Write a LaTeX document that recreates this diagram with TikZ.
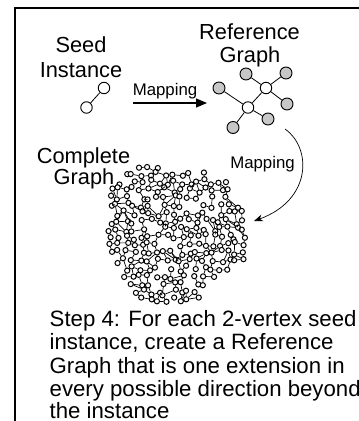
\documentclass[tikz,border=0pt]{standalone}
\usepackage{fontspec}
\setmainfont{Liberation Sans}
\usetikzlibrary{arrows.meta}
\def\gkone{1}
\begin{document}
\begin{tikzpicture}[x=1pt,y=-1pt,
  title/.style={font=\fontsize{21.8}{25}\selectfont, inner sep=0, anchor=base},
  maplabel/.style={font=\fontsize{16.8}{20}\selectfont, inner sep=0, anchor=base},
  steptext/.style={font=\fontsize{22.2}{23.3}\selectfont, inner sep=0, anchor=base west},
  wnode/.style={circle, draw, fill=white, minimum size=11.5pt, inner sep=0, line width=0.9pt},
  gnode/.style={wnode, fill=black!22, minimum size=12pt},
  edge/.style={line width=0.8pt},
  tiny/.style={circle, draw, fill=white, minimum size=5.2pt, inner sep=0, line width=1pt},
  tedge/.style={line width=0.7pt},
  frame/.style={line width=2pt},
  maparrow/.style={line width=1.2pt, -{Triangle[length=11pt,width=9pt]}},
  curvearrow/.style={line width=0.7pt, -{Stealth[length=9pt,width=7pt]}}]
\useasboundingbox (0,0) rectangle (359,421);
\fill[white] (0,0) rectangle (359,421);
% frame
\draw[frame] (15,421) -- (15,8) -- (359,8);

% titles
\node[title] (seed) at (81,52) {Seed};
\node[title] (inst) at (81,77) {Instance};
\node[title] (ref) at (249.5,39) {Reference};
\node[title] (refg) at (250,62) {Graph};
\node[title] (comp) at (83.5,163) {Complete};
\node[title] (compg) at (84,184) {Graph};

% seed instance
\node[wnode] (s1) at (104,88) {};
\node[wnode] (s2) at (86.5,107.5) {};
\draw[edge] (s1) -- (s2);

% mapping arrow 1
\coordinate (m1s) at (133,103);
\coordinate (m1e) at (207,103);
\draw[maparrow] (m1s) -- (m1e);
\node[maplabel] (map1) at (165,95) {Mapping};

% reference graph
\node[wnode] (ru) at (266,88) {};
\node[wnode] (rl) at (248,107.5) {};
\node[gnode] (g1) at (219,88) {};
\node[gnode] (g2) at (246,74) {};
\node[gnode] (g3) at (286,73) {};
\node[gnode] (g4) at (287,104) {};
\node[gnode] (g5) at (268,119) {};
\node[gnode] (g6) at (233,127.5) {};
\draw[edge] (g1) -- (rl);
\draw[edge] (g2) -- (ru);
\draw[edge] (g3) -- (ru);
\draw[edge] (ru) -- (g4);
\draw[edge] (ru) -- (rl);
\draw[edge] (rl) -- (g5);
\draw[edge] (rl) -- (g6);

% curved mapping arrow
\coordinate (cs) at (285,129);
\coordinate (ce) at (254,221);
\draw[curvearrow] (cs) .. controls (312,148) and (312,200) .. (ce);
\node[maplabel] (map2) at (262.5,168) {Mapping};

% complete graph (random mesh)
\pgfmathsetseed{4242}
\foreach \i in {0,...,18}{
  \foreach \j in {0,...,17}{
    \pgfmathsetmacro\xx{102+\i*7.9+3*rand}
    \pgfmathsetmacro\yy{166+\j*7.9+3*rand}
    \pgfmathsetmacro\dx{(\xx-173.5)/72}
    \pgfmathsetmacro\dy{(\yy-234)/69}
    \pgfmathsetmacro\th{atan2(\dy,\dx)}
    \pgfmathsetmacro\rr{1.02+0.06*sin(5*\th)+0.05*cos(3*\th+40)}
    \pgfmathsetmacro\dd{sqrt(\dx*\dx+\dy*\dy)}
    \pgfmathtruncatemacro\keep{((\dd<\rr)&&(rnd>0.08))?1:0}
    \ifnum\keep=1
      \node[tiny] (t-\i-\j) at (\xx,\yy) {};
      \expandafter\xdef\csname gk-\i-\j\endcsname{1}
    \fi
  }
}
\foreach \i in {0,...,18}{
  \foreach \j in {0,...,17}{
    \expandafter\ifx\csname gk-\i-\j\endcsname\gkone
      \pgfmathtruncatemacro\ip{\i+1}
      \pgfmathtruncatemacro\jp{\j+1}
      \pgfmathtruncatemacro\jm{\j-1}
      \expandafter\ifx\csname gk-\ip-\j\endcsname\gkone
        \pgfmathtruncatemacro\e{(rnd<0.7)?1:0}
        \ifnum\e=1 \draw[tedge] (t-\i-\j) -- (t-\ip-\j); \fi
      \fi
      \expandafter\ifx\csname gk-\i-\jp\endcsname\gkone
        \pgfmathtruncatemacro\e{(rnd<0.7)?1:0}
        \ifnum\e=1 \draw[tedge] (t-\i-\j) -- (t-\i-\jp); \fi
      \fi
      \expandafter\ifx\csname gk-\ip-\jp\endcsname\gkone
        \pgfmathtruncatemacro\e{(rnd<0.15)?1:0}
        \ifnum\e=1 \draw[tedge] (t-\i-\j) -- (t-\ip-\jp); \fi
      \fi
      \expandafter\ifx\csname gk-\ip-\jm\endcsname\gkone
        \pgfmathtruncatemacro\e{(rnd<0.12)?1:0}
        \ifnum\e=1 \draw[tedge] (t-\i-\j) -- (t-\ip-\jm); \fi
      \fi
    \fi
  }
}

% step text
\node[steptext] (step1) at (49.5,326) {Step 4: For each 2-vertex seed};
\node[steptext] (step2) at (49.5,349.5) {instance, create a Reference};
\node[steptext] (step3) at (49.5,373) {Graph that is one extension in};
\node[steptext] (step4) at (49.5,396.5) {every possible direction beyond};
\node[steptext] (step5) at (49.5,418) {the instance};
\end{tikzpicture}
\end{document}
